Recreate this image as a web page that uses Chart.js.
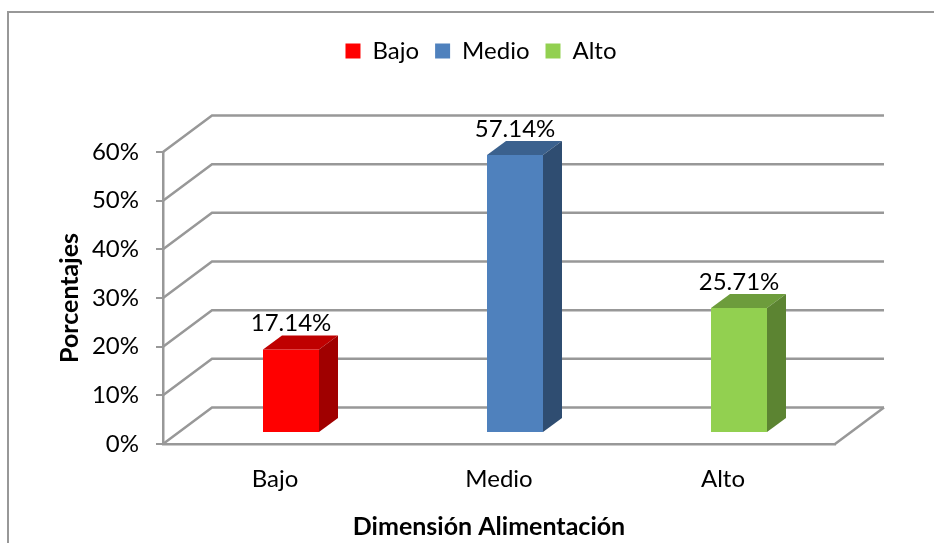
<!DOCTYPE html>
<html>
<head>
<meta charset="utf-8">
<title>Dimensión Alimentación</title>
<script src="https://cdn.jsdelivr.net/npm/chart.js@4/dist/chart.umd.min.js"></script>
<style>
    html, body { margin: 0; padding: 0; background: #fff; overflow: hidden; }
    #wrap { position: relative; width: 934px; height: 543px; }
</style>
</head>
<body>
<div id="wrap"><canvas id="chart" width="934" height="543"></canvas></div>
<script>
const categories = ['Bajo', 'Medio', 'Alto'];
const values = [17.14, 57.14, 25.71];
const barColors = ['#ff0000', '#4f81bd', '#92d050'];
const topColors = ['#bf0000', '#3b618e', '#6d9c3c'];
const sideColors = ['#a00000', '#2f4d71', '#5c8432'];
const xTitle = 'Dimensión Alimentación';
const yTitle = 'Porcentajes';

const FONT = 'Lato, sans-serif';
const GRID = '#989898';
const WALL = { dx: 49, dy: 36.5 };   // shift of the back wall
const BAR_SHIFT = { dx: 16, dy: 11 };   // bars stand inside the floor
const BAR_DEPTH = { dx: 19, dy: 14 };

function line(ctx, pts) {
    ctx.beginPath();
    pts.forEach((p, i) => i ? ctx.lineTo(p[0], p[1]) : ctx.moveTo(p[0], p[1]));
    ctx.stroke();
}

function face(ctx, pts, color) {
    ctx.beginPath();
    pts.forEach((p, i) => i ? ctx.lineTo(p[0], p[1]) : ctx.moveTo(p[0], p[1]));
    ctx.closePath();
    ctx.fillStyle = color;
    ctx.fill();
}

const box3d = {
    id: 'box3d',
    afterLayout(chart) {
        // legend sits off the chart centre in the original
        chart.legend.left = 0;
        chart.legend.right = 962;
        chart.legend.top = 23;
    },
    beforeDraw(chart) {
        // outer frame, only top and left are inside the picture
        const ctx = chart.ctx;
        ctx.save();
        ctx.strokeStyle = GRID;
        ctx.lineWidth = 2;
        line(ctx, [[8, 543], [8, 12], [934, 12]]);
        ctx.restore();
    },
    beforeDatasetsDraw(chart) {
        const ctx = chart.ctx;
        const y = chart.scales.y;
        const area = chart.chartArea;
        ctx.save();
        ctx.strokeStyle = GRID;
        ctx.lineWidth = 2.5;
        y.ticks.forEach(t => {
            const py = y.getPixelForValue(t.value);
            line(ctx, [[area.left, py], [area.left + WALL.dx, py - WALL.dy], [area.right + WALL.dx, py - WALL.dy]]);
        });
        line(ctx, [[area.right, area.bottom], [area.right + WALL.dx, area.bottom - WALL.dy]]);
        ctx.restore();
    },
    beforeDatasetDraw(chart) {
        chart.ctx.save();
        chart.ctx.translate(BAR_SHIFT.dx, -BAR_SHIFT.dy);
    },
    afterDatasetDraw(chart, args) {
        const ctx = chart.ctx;
        args.meta.data.forEach((bar, i) => {
            const half = bar.width / 2;
            const l = bar.x - half, r = bar.x + half, t = bar.y, b = bar.base;
            const d = BAR_DEPTH;
            face(ctx, [[l, t], [r, t], [r + d.dx, t - d.dy], [l + d.dx, t - d.dy]], topColors[i]);
            face(ctx, [[r, t], [r + d.dx, t - d.dy], [r + d.dx, b - d.dy], [r, b]], sideColors[i]);
            ctx.fillStyle = '#000';
            ctx.font = '24px ' + FONT;
            ctx.textAlign = 'center';
            ctx.textBaseline = 'middle';
            ctx.fillText(values[i].toFixed(2) + '%', bar.x, t - 26);
        });
        ctx.restore();
    },
    afterDraw(chart) {
        const ctx = chart.ctx;
        ctx.save();
        ctx.fillStyle = '#000';
        ctx.font = 'bold 25px ' + FONT;
        ctx.textAlign = 'center';
        ctx.textBaseline = 'middle';
        ctx.fillText(xTitle, 489, 527);
        ctx.restore();
    }
};

new Chart(document.getElementById('chart').getContext('2d'), {
    type: 'bar',
    data: {
        labels: categories,
        datasets: [{
            data: values,
            backgroundColor: barColors,
            borderWidth: 0,
            barPercentage: 0.25,
            categoryPercentage: 1,
            clip: false
        }]
    },
    options: {
        responsive: false,
        animation: false,
        layout: { padding: { top: 102, right: 99, left: 0, bottom: 0 } },
        plugins: {
            tooltip: { enabled: false },
            legend: {
                display: true,
                position: 'top',
                onClick: null,
                labels: {
                    boxWidth: 15,
                    boxHeight: 15,
                    padding: 16,
                    color: '#000',
                    font: { family: FONT, size: 24 },
                    generateLabels: () => categories.map((c, i) => ({
                        text: c,
                        fillStyle: barColors[i],
                        strokeStyle: barColors[i],
                        lineWidth: 0,
                        index: i
                    }))
                }
            }
        },
        scales: {
            x: {
                afterFit(scale) { scale.height = 99; },
                grid: { display: false },
                border: { display: true, color: GRID, width: 2.5 },
                ticks: { color: '#000', padding: 13, font: { family: FONT, size: 24 } }
            },
            y: {
                min: 0,
                max: 60,
                afterFit(scale) { scale.width = 163; },
                grid: { drawOnChartArea: false, drawTicks: true, tickLength: 7, color: GRID, lineWidth: 2 },
                border: { display: true, color: GRID, width: 2.5 },
                ticks: {
                    stepSize: 10,
                    color: '#000',
                    padding: 17,
                    font: { family: FONT, size: 24 },
                    callback: v => v + '%'
                },
                title: {
                    display: true,
                    text: yTitle,
                    color: '#000',
                    padding: { top: 55, bottom: 0 },
                    font: { family: FONT, size: 25, weight: 'bold' }
                }
            }
        }
    },
    plugins: [box3d]
});
</script>
</body>
</html>
